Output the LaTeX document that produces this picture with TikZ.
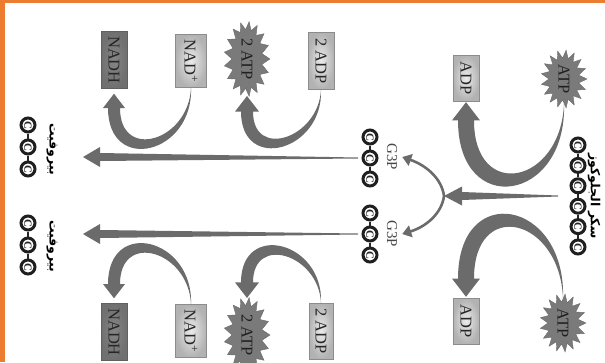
\documentclass[tikz,border=0pt]{standalone}
\usepackage{fontspec}
\setmainfont{Liberation Serif}
\newfontfamily\arabicfont[Script=Arabic]{DejaVu Sans}
\TeXXeTstate=1
\usetikzlibrary{shapes.symbols,arrows.meta,calc}
\definecolor{frameorange}{HTML}{EC7C30}
\definecolor{arrowgray}{HTML}{6B6B6B}
\tikzset{
	box/.style={rectangle, rotate=-90, draw=black!45, inner color=black!8, outer color=black!30, inner sep=0pt, font=\fontsize{16.5}{16.5}\selectfont, text=black!85},
	dark box/.style={box, inner color=black!48, outer color=black!56, draw=black!62},
	burst/.style={starburst, starburst points=17, starburst point height=8pt, random starburst=0, fill=black!52, draw=black!58, inner sep=0pt, rotate=-90, font=\fontsize{16.5}{16.5}\selectfont, text=black!88},
	carbon/.style={circle, draw=black!88, line width=3pt, fill=white, minimum size=14pt, inner sep=0pt, rotate=-90, font=\fontsize{11}{11}\selectfont\bfseries, text=black!85},
	bond/.style={black!85, line width=1.6pt},
	label text/.style={rotate=-90, inner sep=0pt, font=\fontsize{15}{15}\selectfont, text=black!72},
	arabic label/.style={rotate=-90, inner sep=0pt, font=\arabicfont\bfseries\fontsize{12.5}{12.5}\selectfont},
	split arrow/.style={arrowgray, line width=2.6pt, -{Triangle[length=9pt,width=12pt]}},
}
% tail, tip, depth, shaft half width, head half width
\newcommand{\swoosh}[5]{%
	\fill[arrowgray] let \p1=#1, \p2=#2, \n1={(#3<0)?-1:1}, \n2={(\x1<\x2)?-1:1} in
		(\x1,\y1)
		.. controls ({\x1+\n2*0.4*#4},{\y1+(#3)+\n1*1.1*#4}) and ({\x2-\n2*#4},{\y2+\n1*1.3*#5+(#3)+\n1*1.1*#4}) ..
		({\x2-\n2*#4},{\y2+\n1*1.3*#5})
		-- ({\x2-\n2*#5},{\y2+\n1*1.3*#5}) -- (\x2,\y2)
		-- ({\x2+\n2*#5},{\y2+\n1*1.3*#5}) -- ({\x2+\n2*#4},{\y2+\n1*1.3*#5})
		.. controls ({\x2+\n2*#4},{\y2+\n1*1.3*#5+(#3)-\n1*1.1*#4}) and ({\x1-\n2*0.4*#4},{\y1+(#3)-\n1*1.1*#4}) ..
		(\x1,\y1) -- cycle;}
% tail, tip, shaft half width, head half width, head length
\newcommand{\taper}[5]{%
	\fill[arrowgray] let \p1=#1, \p2=#2 in
		(\x1,{\y1+0.5}) -- ({\x2+#5},{\y2+#3}) -- ({\x2+#5},{\y2+#4}) -- (\x2,\y2)
		-- ({\x2+#5},{\y2-#4}) -- ({\x2+#5},{\y2-#3}) -- (\x1,{\y1-0.5}) -- cycle;}

\begin{document}
\begin{tikzpicture}[x=1pt, y=-1pt]
	\useasboundingbox (0,0) rectangle (605,362);
	\clip (0,0) rectangle (605,362);
	% frame
	\fill[frameorange] (0,0) rectangle (605,3);
	\fill[frameorange] (0,0) rectangle (4.5,362);

	% glucose
	\foreach \i in {1,...,6}
		\node[carbon] (glu\i) at (578,{145+20.4*(\i-1)}) {C};
	\foreach \i [remember=\i as \last (initially 1)] in {2,...,6}
		\draw[bond] (glu\last) -- (glu\i);
	\node[arabic label] (glulabel) at (594,196) {\beginR سكر الجلوكوز\endR};

	% G3P and pyruvate chains
	\foreach \i in {1,2,3} {
		\node[carbon] (g3pA\i) at (370,{116+21*\i}) {C};
		\node[carbon] (g3pB\i) at (370,{192+21*\i}) {C};
		\node[carbon] (pyrA\i) at (28,{103+22*\i}) {C};
		\node[carbon] (pyrB\i) at (28,{201+22*\i}) {C};
	}
	\foreach \i [remember=\i as \last (initially 1)] in {2,3} {
		\draw[bond] (g3pA\last) -- (g3pA\i);
		\draw[bond] (g3pB\last) -- (g3pB\i);
		\draw[bond] (pyrA\last) -- (pyrA\i);
		\draw[bond] (pyrB\last) -- (pyrB\i);
	}
	\node[label text] (g3pAlabel) at (392,157) {G3P};
	\node[label text] (g3pBlabel) at (392,234) {G3P};
	\node[arabic label] (pyrAlabel) at (52,149) {\beginR بيروفيت\endR};
	\node[arabic label] (pyrBlabel) at (52,246) {\beginR بيروفيت\endR};

	% first step
	\node[burst, minimum width=58pt, minimum height=46pt] (atpA) at (564,79) {ATP};
	\node[burst, minimum width=58pt, minimum height=46pt] (atpB) at (563,323) {ATP};
	\node[box, minimum width=46pt, minimum height=26pt] (adpA) at (466,78) {ADP};
	\node[box, minimum width=46pt, minimum height=26pt] (adpB) at (466,321) {ADP};

	% second step
	\node[box, minimum width=57pt, minimum height=26pt] (adp2A) at (321,61) {2 ADP};
	\node[box, minimum width=56pt, minimum height=24pt] (adp2B) at (321,331) {2 ADP};
	\node[burst, minimum width=68pt, minimum height=46pt] (atp2A) at (247,59) {2 ATP};
	\node[burst, minimum width=68pt, minimum height=46pt] (atp2B) at (247,335) {2 ATP};
	\node[box, minimum width=53pt, minimum height=31pt] (nadA) at (191,61) {NAD\textsuperscript{+}};
	\node[box, minimum width=53pt, minimum height=31pt] (nadB) at (191,331) {NAD\textsuperscript{+}};
	\node[dark box, minimum width=57pt, minimum height=26pt] (nadhA) at (114,60) {NADH};
	\node[dark box, minimum width=57pt, minimum height=26pt] (nadhB) at (114,332) {NADH};

	% arrows
	\coordinate (glustart) at (558,196);
	\coordinate (split) at (444,196);
	\coordinate (pyrAend) at (83,157);
	\coordinate (pyrBend) at (83,234);
	\taper{(glustart)}{(split)}{4}{9.5}{18}
	\draw[split arrow] (split) .. controls (442,180) and (428,166) .. ([xshift=5pt]g3pAlabel.north);
	\draw[split arrow] (split) .. controls (442,212) and (428,226) .. ([xshift=5pt]g3pBlabel.north);
	\taper{([xshift=-12pt]g3pA2.center)}{(pyrAend)}{4}{10}{17}
	\taper{([xshift=-12pt]g3pB2.center)}{(pyrBend)}{4}{10}{17}

	\swoosh{(atpA.east)}{([yshift=-1pt]adpA.east)}{-90}{8}{14}
	\swoosh{(atpB.west)}{([yshift=1pt]adpB.west)}{90}{8}{14}
	\swoosh{(adp2A.east)}{([yshift=-4pt]atp2A.east)}{-55}{6}{12}
	\swoosh{(adp2B.west)}{([yshift=4pt]atp2B.west)}{55}{6}{12}
	\swoosh{(nadA.east)}{([yshift=-5pt]nadhA.east)}{-60}{6}{11}
	\swoosh{(nadB.west)}{([yshift=5pt]nadhB.west)}{60}{6}{11}
\end{tikzpicture}
\end{document}
